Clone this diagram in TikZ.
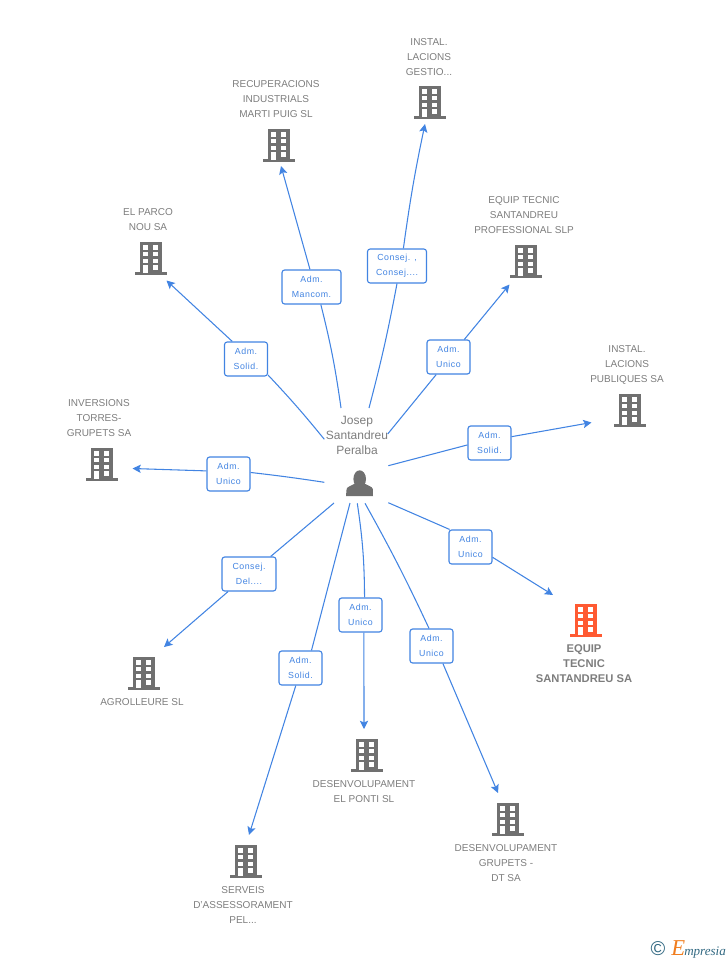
\documentclass[tikz,border=0pt]{standalone}
\usepackage{fontspec}
\usetikzlibrary{arrows.meta}
\setmainfont{Liberation Sans}
\newfontfamily\rolefont[LetterSpace=6]{Liberation Sans}
\newfontfamily\logofont{Liberation Serif}
\definecolor{linkblue}{RGB}{66,132,226}
\definecolor{bldggray}{RGB}{112,112,112}
\definecolor{txtgray}{RGB}{125,125,125}
\definecolor{bldgred}{RGB}{255,90,50}
\definecolor{logoteal}{RGB}{50,105,130}
\definecolor{logoorange}{RGB}{240,125,30}
\tikzset{
  role/.style={draw=linkblue, line width=0.85pt, fill=white, rounded corners=2pt, align=center, text=linkblue, inner sep=0pt,
    minimum width=32.25pt, minimum height=25.5pt, font=\rolefont\fontsize{6.6}{11.25}\selectfont,
    execute at begin node=\rule{0pt}{7.2pt}},
  firm/.style={align=center, text=txtgray, inner sep=0pt, yshift=-0.3pt, font=\fontsize{7.5}{11.25}\selectfont},
  link/.style={linkblue, line width=0.8pt},
  bldg/.pic={
    \fill[pic actions] (-11,-15.7) rectangle (11,14.5);
    \fill[pic actions] (-15.7,14) rectangle (15.7,16.6);
    \foreach \yy in {-12.7,-6,0.6} {
      \fill[white] (-8,\yy) rectangle (-3,\yy+4.4);
      \fill[white] (2,\yy) rectangle (7,\yy+4.4);
    }
    \fill[white] (-8,7.3) rectangle (-3,15);
    \fill[white] (2,7.3) rectangle (7,11.7);
  }
}
\begin{document}
\begin{tikzpicture}[>={Stealth[length=6.2pt,width=6.2pt,inset=1.3pt]}, x=0.75pt, y=-0.75pt]
\useasboundingbox (0,0) rectangle (728,960);

% person
\node[align=center, text=txtgray, inner sep=0pt, font=\fontsize{9}{11.25}\selectfont] (josep) at (357,435) {Josep\\Santandreu\\Peralba};
\fill[bldggray] (359.7,479) ellipse [x radius=6.3, y radius=8.7];
\fill[bldggray] (346,496) -- (346.6,489) .. controls (347.2,486.5) and (352,485.5) .. (355,483.5) -- (364.5,483.5) .. controls (367.5,485.5) and (372.3,486.5) .. (372.8,489) -- (373,496) -- cycle;

% companies
\pic[bldggray] at (430,102) {bldg};
\node[firm] (gestio) at (429,57) {INSTAL.\\LACIONS\\GESTIO...};
\pic[bldggray] at (279,145) {bldg};
\node[firm] (recup) at (276,99) {RECUPERACIONS\\INDUSTRIALS\\MARTI PUIG SL};
\pic[bldggray] at (151,258) {bldg};
\node[firm] (parco) at (148,219.5) {EL PARCO\\NOU SA};
\pic[bldggray] at (526,261) {bldg};
\node[firm] (prof) at (524,215) {EQUIP TECNIC\\SANTANDREU\\PROFESSIONAL SLP};
\pic[bldggray] at (630,410) {bldg};
\node[firm] (publ) at (627,364.5) {INSTAL.\\LACIONS\\PUBLIQUES SA};
\pic[bldggray] at (102,464) {bldg};
\node[firm] (torres) at (99,418) {INVERSIONS\\TORRES-\\GRUPETS SA};
\pic[bldgred] at (586,620) {bldg};
\node[firm, font=\bfseries\fontsize{8.4}{11.25}\selectfont] (equip) at (584,663) {EQUIP\\TECNIC\\SANTANDREU SA};
\pic[bldggray] at (144,673) {bldg};
\node[firm] (agro) at (142,702) {AGROLLEURE SL};
\pic[bldggray] at (367,755) {bldg};
\node[firm] (ponti) at (364,791.5) {DESENVOLUPAMENT\\EL PONTI SL};
\pic[bldggray] at (508,819) {bldg};
\node[firm] (grupets) at (506,863) {DESENVOLUPAMENT\\GRUPETS -\\DT SA};
\pic[bldggray] at (246,861) {bldg};
\node[firm] (serveis) at (243,905) {SERVEIS\\D'ASSESSORAMENT\\PEL...};

% arrow ends
\coordinate (s1) at (369,408);     \coordinate (t1) at (425,124);
\coordinate (s2) at (341,408);     \coordinate (t2) at (281,166);
\coordinate (s3) at (324.3,439.3); \coordinate (t3) at (166.5,280.5);
\coordinate (s4) at (387.7,434);   \coordinate (t4) at (509.5,284.5);
\coordinate (s5) at (388.3,465.7); \coordinate (t5) at (591.5,422.5);
\coordinate (s6) at (388.3,502.7); \coordinate (t6) at (553,595);
\coordinate (s7) at (365,503.3);   \coordinate (t7) at (498,793);
\coordinate (s8) at (357.3,503.3); \coordinate (t8) at (364,729);
\coordinate (s9) at (350,503);     \coordinate (t9) at (249,835);
\coordinate (s10) at (334,503);    \coordinate (t10) at (164,647);
\coordinate (s11) at (324.3,482.3);\coordinate (t11) at (132.5,468.5);

% roles
\node[role, minimum width=44.25pt] (r1) at (397,266) {Consej. ,\\Consej....};
\node[role, minimum width=44.25pt] (r2) at (311.5,287) {Adm.\\Mancom.};
\node[role] (r3) at (246,359) {Adm.\\Solid.};
\node[role] (r4) at (448.5,357) {Adm.\\Unico};
\node[role] (r5) at (489.5,443) {Adm.\\Solid.};
\node[role] (r6) at (470.5,547) {Adm.\\Unico};
\node[role] (r7) at (431.5,646) {Adm.\\Unico};
\node[role] (r8) at (360.5,615) {Adm.\\Unico};
\node[role] (r9) at (300.5,668) {Adm.\\Solid.};
\node[role, minimum width=40.5pt] (r10) at (249,574) {Consej.\\Del....};
\node[role] (r11) at (228.5,474) {Adm.\\Unico};

% links
\draw[link] (s1) to[bend right=2] (r1.south);
\draw[link,->] (r1.70) to[bend left=2] (t1);
\draw[link] (s2) to[bend right=3] (r2.-62);
\draw[link,->] (r2.95) to (t2);
\draw[link] (s3) to[bend right=2] (r3.-36);
\draw[link,->] (r3.128) to (t3);
\draw[link] (s4) to (r4.-125);
\draw[link,->] (r4.48) to (t4);
\draw[link] (s5) to (r5.185);
\draw[link,->] (r5.16) to (t5);
\draw[link] (s6) to (r6.140);
\draw[link,->] (r6.-25) to (t6);
\draw[link] (s7) to[bend left=2] (r7.98);
\draw[link,->] (r7.-57) to (t7);
\draw[link] (s8) to[bend left=4] (r8.77);
\draw[link,->] (r8.-79) to (t8);
\draw[link] (s9) to (r9.58);
\draw[link,->] (r9.-105) to (t9);
\draw[link] (s10) to (r10.39);
\draw[link,->] (r10.-140) to (t10);
\draw[link] (s11) to[bend right=1] (r11.4);
\draw[link,->] (r11.172) to (t11);

% logo
\node[inner sep=0pt, text=logoteal, font=\fontsize{15}{15}\selectfont] (copy) at (658,948.5) {\textcopyright};
\node[inner sep=0pt, anchor=base west, text=logoorange, font=\logofont\itshape\fontsize{17}{17}\selectfont] (logoe) at (671,955) {E};
\node[inner sep=0pt, anchor=base west, text=logoteal, font=\logofont\itshape\fontsize{9.8}{10}\selectfont] (logot) at (684,955) {mpresia};
\end{tikzpicture}
\end{document}
